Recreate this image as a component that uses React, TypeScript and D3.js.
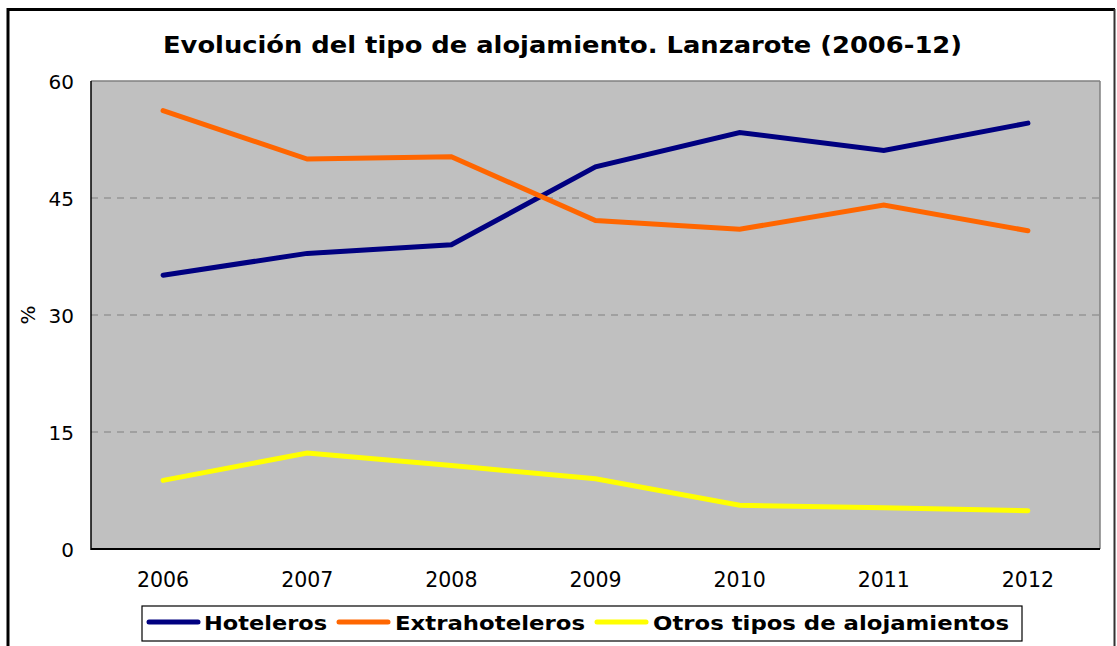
import React from "react";
import * as d3 from "d3";

const years = ["2006", "2007", "2008", "2009", "2010", "2011", "2012"];
const hoteleros = [35.1, 37.9, 39.0, 49.0, 53.4, 51.1, 54.6];
const extrahoteleros = [56.2, 50.0, 50.3, 42.1, 41.0, 44.1, 40.8];
const otros = [8.8, 12.3, 10.7, 9.0, 5.6, 5.3, 4.9];
const yTicks = [0, 15, 30, 45, 60];

const seriesNames = ["Hoteleros", "Extrahoteleros", "Otros tipos de alojamientos"];
const seriesColors = ["#000080", "#FF6600", "#FFFF00"];
const seriesValues = [hoteleros, extrahoteleros, otros];

const W = 1117;
const H = 646;
const plot = { left: 91, right: 1100, top: 81, bottom: 549 };
const FONT = "'DejaVu Sans', Verdana, sans-serif";

export default function App() {
  const x = d3
    .scaleBand<string>()
    .domain(years)
    .range([plot.left, plot.right])
    .padding(0);
  const cx = (yr: string) => (x(yr) as number) + x.bandwidth() / 2;
  const y = d3.scaleLinear().domain([0, 60]).range([plot.bottom, plot.top]);

  const line = d3
    .line<number>()
    .x((_, i) => cx(years[i]))
    .y((v) => y(v));

  const legendItems = [
    { lineX: 147, textX: 204, textW: 123 },
    { lineX: 337, textX: 395, textW: 190 },
    { lineX: 595, textX: 653, textW: 356 },
  ];

  return (
    <svg
      width={W}
      height={H}
      style={{ position: "absolute", left: 0, top: 0, background: "#fff" }}
    >
      {/* outer frame */}
      <line x1={8} y1={9.5} x2={1115} y2={9.5} stroke="#000" strokeWidth={3} />
      <line x1={8} y1={8} x2={8} y2={H} stroke="#000" strokeWidth={3} />
      <line x1={1114.5} y1={9} x2={1114.5} y2={H} stroke="#333" strokeWidth={2} />

      {/* title */}
      <text
        x={163}
        y={53}
        fontFamily={FONT}
        fontWeight="bold"
        fontSize={23}
        textLength={799}
        lengthAdjust="spacingAndGlyphs"
        fill="#000"
      >
        Evolución del tipo de alojamiento. Lanzarote (2006-12)
      </text>

      {/* plot area */}
      <rect
        x={plot.left}
        y={plot.top}
        width={plot.right - plot.left}
        height={plot.bottom - plot.top}
        fill="#C0C0C0"
      />
      {yTicks
        .filter((t) => t > 0 && t < 60)
        .map((t) => (
          <line
            key={t}
            x1={plot.left}
            x2={plot.right}
            y1={y(t)}
            y2={y(t)}
            stroke="#808080"
            strokeWidth={1}
            strokeDasharray="7,6"
          />
        ))}
      <line x1={plot.left} x2={plot.right} y1={plot.top} y2={plot.top} stroke="#808080" strokeWidth={1.5} />
      <line x1={plot.right} x2={plot.right} y1={plot.top} y2={plot.bottom} stroke="#808080" strokeWidth={1.5} />
      <line x1={plot.left} x2={plot.left} y1={plot.top} y2={plot.bottom + 1} stroke="#000" strokeWidth={1.5} />
      <line x1={plot.left} x2={plot.right} y1={plot.bottom} y2={plot.bottom} stroke="#000" strokeWidth={1.8} />

      {/* series */}
      {seriesValues.map((vals, i) => (
        <path
          key={seriesNames[i]}
          d={line(vals) || ""}
          fill="none"
          stroke={seriesColors[i]}
          strokeWidth={5}
          strokeLinecap="round"
          strokeLinejoin="miter"
        />
      ))}

      {/* y ticks */}
      {yTicks.map((t) => (
        <text
          key={t}
          x={74}
          y={y(t) + 7.5}
          textAnchor="end"
          fontFamily={FONT}
          fontSize={20}
          fill="#000"
        >
          {t}
        </text>
      ))}
      <text
        transform={`translate(35,${y(30)}) rotate(-90)`}
        textAnchor="middle"
        fontFamily={FONT}
        fontSize={20}
        fill="#000"
      >
        %
      </text>

      {/* x ticks */}
      {years.map((yr) => (
        <text
          key={yr}
          x={cx(yr)}
          y={587}
          textAnchor="middle"
          fontFamily={FONT}
          fontSize={20.5}
          fill="#000"
        >
          {yr}
        </text>
      ))}

      {/* legend */}
      <rect x={142} y={606} width={880} height={35} fill="#fff" stroke="#000" strokeWidth={1.2} />
      {seriesNames.map((name, i) => (
        <g key={name}>
          <line
            x1={legendItems[i].lineX + 2}
            x2={legendItems[i].lineX + 51}
            y1={622}
            y2={622}
            stroke={seriesColors[i]}
            strokeWidth={5}
            strokeLinecap="round"
          />
          <text
            x={legendItems[i].textX}
            y={630}
            fontFamily={FONT}
            fontWeight="bold"
            fontSize={20}
            textLength={legendItems[i].textW}
            lengthAdjust="spacingAndGlyphs"
            fill="#000"
          >
            {name}
          </text>
        </g>
      ))}
    </svg>
  );
}
